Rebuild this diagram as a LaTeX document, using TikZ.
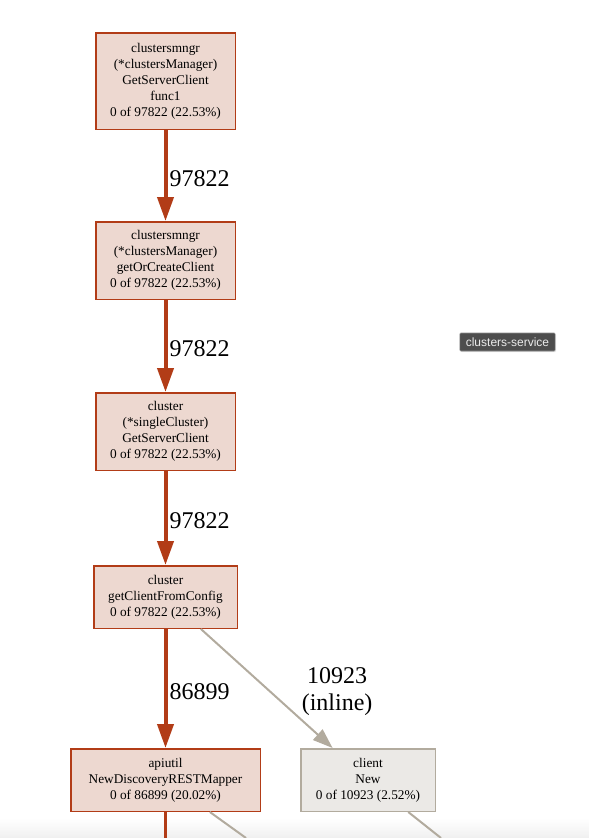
\documentclass[tikz,border=0pt]{standalone}
\usepackage{fontspec}
\setmainfont{Liberation Serif}
\newfontfamily\tagfont{Liberation Sans}
\usepackage{tikz}
\usetikzlibrary{positioning, arrows.meta, shadows}
\definecolor{hotline}{RGB}{178,60,23}
\definecolor{hotfill}{RGB}{237,216,208}
\definecolor{coldline}{RGB}{178,171,158}
\definecolor{coldfill}{RGB}{235,233,230}
\definecolor{tagfill}{RGB}{77,77,77}

\begin{document}
\begin{tikzpicture}[->,>={Triangle[length=24pt,width=16pt]},auto,node distance=91pt,
                    semithick]
\tikzstyle{fn}=[draw=hotline,fill=hotfill,line width=1.5pt,align=center,inner sep=0pt,text=black]
\tikzstyle{fncold}=[fn,draw=coldline,fill=coldfill]
\tikzstyle{hot}=[draw=hotline,line width=4pt]
\tikzstyle{cold}=[draw=coldline,line width=2pt,-{Triangle[length=20pt,width=14pt]}]
\tikzstyle{cnt}=[font=\fontsize{24}{27}\selectfont,inner sep=2pt,text=black,yshift=-3pt]
\tikzstyle{tag}=[fill=tagfill,draw=black!45,text=white!92!black,font=\tagfont\fontsize{12}{14}\selectfont,
                 inner xsep=6pt,inner ysep=2pt,minimum height=18pt,rounded corners=1pt,
                 drop shadow={opacity=0.2,shadow xshift=1pt,shadow yshift=-1pt}]
\tikzset{font=\fontsize{13.3}{16}\selectfont}

\useasboundingbox (0,0) rectangle (589pt,-838pt);
\shade[-,top color=white,bottom color=black!6] (0,-818pt) rectangle (589pt,-838pt);

        \node[fn,minimum width=139.5pt,minimum height=96.5pt]    (0)   at (165.5pt,-81pt)   {clustersmngr\\(*clustersManager)\\GetServerClient\\func1\\0 of 97822 (22.53\%)};
        \node[fn,minimum width=139.5pt,minimum height=77.5pt]    (1)   [below=91pt of 0]    {clustersmngr\\(*clustersManager)\\getOrCreateClient\\0 of 97822 (22.53\%)};
        \node[fn,minimum width=139.5pt,minimum height=77.5pt]    (2)   [below=92pt of 1]    {cluster\\(*singleCluster)\\GetServerClient\\0 of 97822 (22.53\%)};
        \node[fn,minimum width=143.5pt,minimum height=62.5pt]    (3)   [below=94pt of 2]    {cluster\\getClientFromConfig\\0 of 97822 (22.53\%)};
        \node[fn,minimum width=189.5pt,minimum height=62.5pt]    (4)   [below=119pt of 3]   {apiutil\\NewDiscoveryRESTMapper\\0 of 86899 (20.02\%)};
        \node[fncold,minimum width=134.5pt,minimum height=62.5pt](5)   [right=39pt of 4]    {client\\New\\0 of 10923 (2.52\%)};

        \node[tag]                                               (svc) at (507.5pt,-342pt)  {clusters-service};

        % edges leaving the picture at the bottom
        \coordinate (o4a) at (165.5pt,-838pt);
        \coordinate (o4b) at (246pt,-838pt);
        \coordinate (o5)  at (441pt,-838pt);

        \path[->]
        (0)   edge[hot]  node[cnt,right] {97822}            (1)
        (1)   edge[hot]  node[cnt,right] {97822}            (2)
        (2)   edge[hot]  node[cnt,right] {97822}            (3)
        (3)   edge[hot]  node[cnt,right] {86899}            (4)
        (3)   edge[cold] node[cnt,right=32pt,align=center] {10923\\(inline)} (5)
        ; %end path

        \path[-]
        (4)   edge[draw=hotline,line width=2.5pt]   (o4a)
        (4)   edge[draw=coldline,line width=2pt]    (o4b)
        (5)   edge[draw=coldline,line width=2pt]    (o5)
        ; %end path

\end{tikzpicture}
\end{document}
